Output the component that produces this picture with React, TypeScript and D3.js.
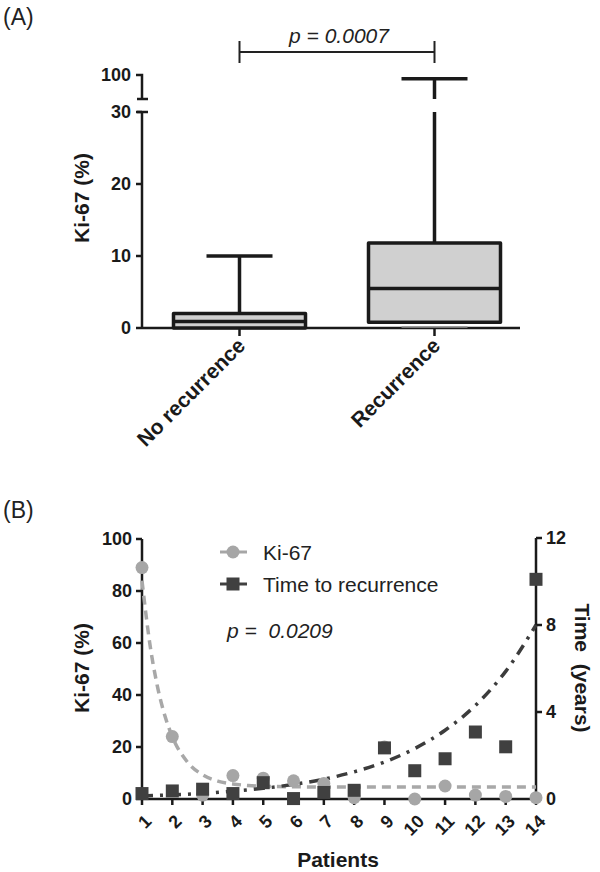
import React from "react";
import * as d3 from "d3";

// ---------- Panel A data ----------
const groups = ["No recurrence", "Recurrence"];
const boxMin = [0, 0.1];
const boxQ1 = [0, 0.8];
const boxMedian = [0.9, 5.5];
const boxQ3 = [2, 11.8];
const boxMax = [10, 89];
const yTicksA = [0, 10, 20, 30];
const yTicksAUpper = [100];
const pValueA = "p = 0.0007";

// ---------- Panel B data ----------
const patients = [1, 2, 3, 4, 5, 6, 7, 8, 9, 10, 11, 12, 13, 14];
const ki67 = [89, 24, 1.5, 9, 8, 7, 6, 0.5, 20, 0, 5, 1.5, 1, 0.5];
const timeRec = [0.25, 0.37, 0.45, 0.25, 0.75, 0.02, 0.3, 0.4, 2.35, 1.3, 1.85, 3.08, 2.4, 10.1];
// fitted curves
const ki67FitX = [1, 1.25, 1.5, 1.75, 2, 2.5, 3, 3.5, 4, 4.5, 5, 6, 7, 8, 9, 10, 11, 12, 13, 14];
const ki67FitY = [84, 60.4, 43.8, 32.2, 24.0, 14.2, 9.3, 6.9, 5.8, 5.2, 4.9, 4.7, 4.6, 4.6, 4.6, 4.6, 4.6, 4.6, 4.6, 4.6];
const timeFitX = [1, 2, 3, 4, 5, 6, 7, 8, 9, 10, 11, 12, 13, 14];
const timeFitY = [0.14, 0.19, 0.26, 0.36, 0.49, 0.67, 0.91, 1.25, 1.7, 2.32, 3.16, 4.3, 5.87, 8.0];
const yTicksBLeft = [0, 20, 40, 60, 80, 100];
const yTicksBRight = [0, 4, 8, 12];
const pValueB = "p =  0.0209";

const FONT = "'Liberation Sans', Arial, Helvetica, sans-serif";
const AX = "#1a1a1a";
const TICK_FS = 18;
const TITLE_FS = 21;
const TEXT_FS = 21;

export default function App() {
  // Panel A scales
  const xA = d3.scalePoint<string>().domain(groups).range([142, 532]).padding(0.5);
  const yLow = d3.scaleLinear().domain([0, 30]).range([328, 112]);
  const yUp = d3.scaleLinear().domain([30, 100]).range([99, 75]);
  const yA = (v: number) => (v <= 30 ? yLow(v) : yUp(v));
  const boxW = 132;
  const capW = 66;

  // Panel B scales
  const xB = d3.scaleLinear().domain([1, 14]).range([142, 536]);
  const yBL = d3.scaleLinear().domain([0, 100]).range([799, 539]);
  const yBR = d3.scaleLinear().domain([0, 12]).range([799, 538]);

  const kiLine = d3
    .line<number>()
    .x((_, i) => xB(ki67FitX[i]))
    .y((d) => yBL(d))
    .curve(d3.curveMonotoneX);
  const timeLine = d3
    .line<number>()
    .x((_, i) => xB(timeFitX[i]))
    .y((d) => yBR(d))
    .curve(d3.curveMonotoneX);

  const circleColor = "#a6a6a6";
  const squareColor = "#404040";

  return (
    <svg
      width={600}
      height={872}
      style={{ position: "absolute", left: 0, top: 0, background: "#fff" }}
      fontFamily={FONT}
    >
      <rect width={600} height={872} fill="#fff" />
      {/* ================= Panel A ================= */}
      <text x={3} y={25} fontSize={23} fill="#222">(A)</text>

      {/* bracket */}
      <g stroke="#222" strokeWidth={2}>
        <line x1={xA(groups[0])} x2={xA(groups[1])} y1={52} y2={52} />
        <line x1={xA(groups[0])} x2={xA(groups[0])} y1={41} y2={63} />
        <line x1={xA(groups[1])} x2={xA(groups[1])} y1={41} y2={63} />
      </g>
      <text x={339} y={43} fontSize={TEXT_FS} fontStyle="italic" textAnchor="middle" fill="#222">
        {pValueA}
      </text>

      {/* y axis with break */}
      <g stroke={AX} strokeWidth={2.5} fill="none">
        <path d={`M136,${yUp(100)}H142V${yUp(30)}`} />
        <line x1={137} x2={148} y1={yUp(30)} y2={yUp(30)} />
        <line x1={137} x2={148} y1={yLow(30)} y2={yLow(30)} />
        <line x1={142} x2={142} y1={yLow(30)} y2={yLow(0)} />
        {yTicksA.map((t) => (
          <line key={t} x1={136} x2={142} y1={yLow(t)} y2={yLow(t)} />
        ))}
        <line x1={142} x2={520} y1={yLow(0)} y2={yLow(0)} />
        {groups.map((g) => (
          <line key={g} x1={xA(g)} x2={xA(g)} y1={yLow(0)} y2={yLow(0) + 8} />
        ))}
      </g>
      {yTicksA.map((t) => (
        <text key={t} x={131} y={yLow(t)} dy="0.35em" textAnchor="end" fontSize={TICK_FS} fontWeight="bold" fill={AX}>
          {t}
        </text>
      ))}
      {yTicksAUpper.map((t) => (
        <text key={t} x={131} y={yUp(t)} dy="0.35em" textAnchor="end" fontSize={TICK_FS} fontWeight="bold" fill={AX}>
          {t}
        </text>
      ))}
      <text
        transform={`translate(89,198) rotate(-90)`}
        textAnchor="middle"
        fontSize={TITLE_FS}
        fontWeight="bold"
        fill={AX}
      >
        Ki-67 (%)
      </text>

      {/* boxes */}
      {groups.map((g, i) => {
        const cx = xA(g) as number;
        const maxLowTop = yA(Math.min(boxMax[i], 30));
        return (
          <g key={g} stroke={AX} strokeWidth={3.5}>
            <line x1={cx} x2={cx} y1={yA(boxQ3[i])} y2={maxLowTop} />
            {boxMax[i] > 30 && <line x1={cx} x2={cx} y1={yUp(30)} y2={yA(boxMax[i])} />}
            <line x1={cx - capW / 2} x2={cx + capW / 2} y1={yA(boxMax[i])} y2={yA(boxMax[i])} />
            <line
              x1={cx - capW / 2}
              x2={cx + capW / 2}
              y1={yA(boxMin[i])}
              y2={yA(boxMin[i])}
              strokeWidth={1.5}
              stroke="#777"
            />
            <rect
              x={cx - boxW / 2}
              width={boxW}
              y={yA(boxQ3[i])}
              height={yA(boxQ1[i]) - yA(boxQ3[i])}
              fill="#d0d0d0"
              strokeLinejoin="round"
            />
            <line x1={cx - boxW / 2} x2={cx + boxW / 2} y1={yA(boxMedian[i])} y2={yA(boxMedian[i])} />
          </g>
        );
      })}
      {groups.map((g) => (
        <text
          key={g}
          transform={`translate(${(xA(g) as number) + 7},${yLow(0) + 19}) rotate(-45)`}
          textAnchor="end"
          fontSize={TITLE_FS}
          fontWeight="bold"
          fill={AX}
        >
          {g}
        </text>
      ))}

      {/* ================= Panel B ================= */}
      <text x={3} y={518} fontSize={23} fill="#222">(B)</text>

      <g stroke={AX} strokeWidth={2.5} fill="none">
        <line x1={142} x2={142} y1={yBL(100)} y2={yBL(0)} />
        {yTicksBLeft.map((t) => (
          <line key={t} x1={136} x2={142} y1={yBL(t)} y2={yBL(t)} />
        ))}
        <line x1={536} x2={536} y1={yBR(12)} y2={yBR(0)} />
        {yTicksBRight.map((t) => (
          <line key={t} x1={536} x2={542} y1={yBR(t)} y2={yBR(t)} />
        ))}
        <line x1={142} x2={536} y1={yBL(0)} y2={yBL(0)} />
        {patients.map((p) => (
          <line key={p} x1={xB(p)} x2={xB(p)} y1={yBL(0)} y2={yBL(0) + 6} />
        ))}
      </g>
      {yTicksBLeft.map((t) => (
        <text key={t} x={132} y={yBL(t)} dy="0.35em" textAnchor="end" fontSize={TICK_FS} fontWeight="bold" fill={AX}>
          {t}
        </text>
      ))}
      {yTicksBRight.map((t) => (
        <text key={t} x={546} y={yBR(t)} dy="0.35em" textAnchor="start" fontSize={TICK_FS} fontWeight="bold" fill={AX}>
          {t}
        </text>
      ))}
      {patients.map((p) => (
        <text
          key={p}
          transform={`translate(${xB(p) + 6},${yBL(0) + 19}) rotate(-45)`}
          textAnchor="end"
          dy="0.35em"
          fontSize={TICK_FS}
          fontWeight="bold"
          fill={AX}
        >
          {p}
        </text>
      ))}
      <text x={338} y={867} textAnchor="middle" fontSize={TITLE_FS} fontWeight="bold" fill={AX}>
        Patients
      </text>
      <text
        transform={`translate(89,668) rotate(-90)`}
        textAnchor="middle"
        fontSize={TITLE_FS}
        fontWeight="bold"
        fill={AX}
      >
        Ki-67 (%)
      </text>
      <text
        transform={`translate(575,668) rotate(90)`}
        textAnchor="middle"
        fontSize={TITLE_FS}
        fontWeight="bold"
        fill={AX}
        style={{ whiteSpace: "pre" }}
      >
        {"Time  (years)"}
      </text>

      {/* fit curves */}
      <path d={kiLine(ki67FitY) || ""} fill="none" stroke="#a8a8a8" strokeWidth={3.5} strokeDasharray="9,6" />
      <path
        d={timeLine(timeFitY) || ""}
        fill="none"
        stroke="#3c3c3c"
        strokeWidth={3.5}
        strokeDasharray="11,7,3,7"
      />

      {/* points */}
      {patients.map((p, i) => (
        <circle key={p} cx={xB(p)} cy={yBL(ki67[i])} r={6.5} fill={circleColor} />
      ))}
      {patients.map((p, i) => (
        <rect key={p} x={xB(p) - 6.5} y={yBR(timeRec[i]) - 6.5} width={13} height={13} fill={squareColor} />
      ))}

      {/* legend */}
      <line x1={220} x2={247} y1={552} y2={552} stroke={circleColor} strokeWidth={3} />
      <circle cx={233} cy={552} r={6.5} fill={circleColor} />
      <text x={263} y={553} dy="0.35em" fontSize={TEXT_FS} fill="#222">Ki-67</text>
      <line x1={220} x2={247} y1={584} y2={584} stroke={squareColor} strokeWidth={3} />
      <rect x={226.5} y={577.5} width={13} height={13} fill={squareColor} />
      <text x={263} y={585} dy="0.35em" fontSize={TEXT_FS} fill="#222">Time to recurrence</text>

      <text x={227} y={638} fontSize={TEXT_FS} fontStyle="italic" fill="#222" style={{ whiteSpace: "pre" }}>
        {pValueB}
      </text>
    </svg>
  );
}
